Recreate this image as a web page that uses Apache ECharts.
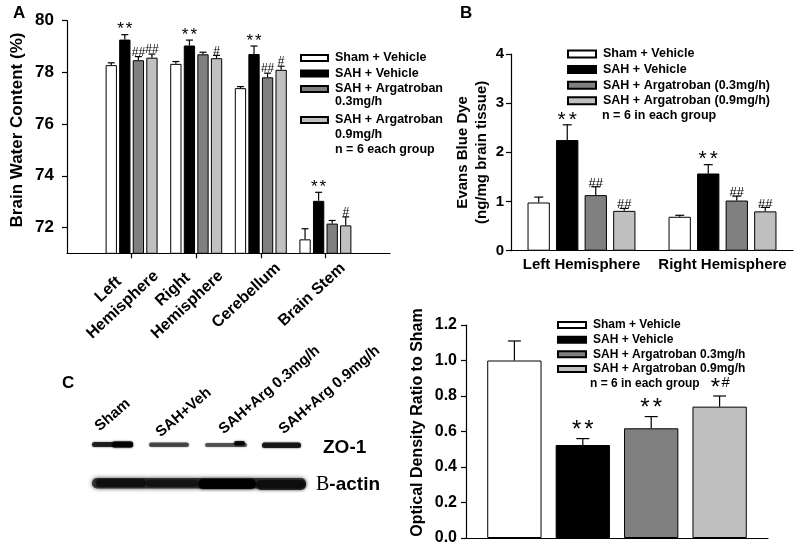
<!DOCTYPE html>
<html><head><meta charset="utf-8">
<script src="https://cdn.jsdelivr.net/npm/echarts@6/dist/echarts.min.js"></script>
<style>html,body{margin:0;padding:0;background:#fff}#c{width:800px;height:558px}</style>
</head><body><div id="c"></div>
<script>
const FONT = '"Liberation Sans", Arial, Helvetica, sans-serif';

// ---------- Panel A : brain water content ----------
const regionsA = ['Left\nHemisphere', 'Right\nHemisphere', 'Cerebellum', 'Brain Stem'];
const groupsA = ['Sham + Vehicle', 'SAH + Vehicle', 'SAH + Argatroban 0.3mg/h', 'SAH + Argatroban 0.9mg/h'];
const yTicksA = [72, 74, 76, 78, 80];
const shamA = [78.28, 78.33, 77.39, 71.54];
const shamSemA = [0.09, 0.09, 0.06, 0.41];
const sahA = [79.27, 79.04, 78.71, 73.03];
const sahSemA = [0.19, 0.21, 0.31, 0.33];
const arg03A = [78.47, 78.70, 77.81, 72.15];
const arg03SemA = [0.14, 0.08, 0.16, 0.12];
const arg09A = [78.57, 78.55, 78.10, 72.08];
const arg09SemA = [0.14, 0.11, 0.14, 0.33];
const shamMarkA = ['', '', '', ''];
const sahMarkA = ['**', '**', '**', '**'];
const arg03MarkA = ['##', '', '##', ''];
const arg09MarkA = ['##', '#', '#', '#'];

// ---------- Panel B : Evans blue ----------
const regionsB = ['Left Hemisphere', 'Right Hemisphere'];
const groupsB = ['Sham + Vehicle', 'SAH + Vehicle', 'SAH + Argatroban (0.3mg/h)', 'SAH + Argatroban (0.9mg/h)'];
const shamB = [0.98, 0.69];
const shamSemB = [0.11, 0.03];
const sahB = [2.25, 1.57];
const sahSemB = [0.31, 0.18];
const arg03B = [1.13, 1.02];
const arg03SemB = [0.17, 0.09];
const arg09B = [0.81, 0.80];
const arg09SemB = [0.05, 0.08];
const shamMarkB = ['', ''];
const sahMarkB = ['**', '**'];
const arg03MarkB = ['##', '##'];
const arg09MarkB = ['##', '##'];

// ---------- Panel C : ZO-1 optical density ----------
const groupsC = ['Sham + Vehicle', 'SAH + Vehicle', 'SAH + Argatroban 0.3mg/h', 'SAH + Argatroban 0.9mg/h'];
const densityC = [1.00, 0.524, 0.618, 0.74];
const densitySemC = [0.11, 0.036, 0.066, 0.06];
const densityMarkC = ['', '**', '**', '*#'];
const blotLanes = ['Sham', 'SAH+Veh', 'SAH+Arg 0.3mg/h', 'SAH+Arg 0.9mg/h'];

const fills = ['#ffffff', '#000000', '#808080', '#c0c0c0'];
const AX = {color: '#000', width: 1.2};

function barSeries(name, data, gi, color, bw, gap) {
  return {type: 'bar', name: name, data: data, xAxisIndex: gi, yAxisIndex: gi,
    barWidth: bw, barGap: gap, animation: false,
    itemStyle: {color: color, borderColor: '#000', borderWidth: 1}};
}
// cfg: sf/hf = font size of '*' / '#', sp = extra side space of '*', so/ho = vertical offsets
function errSeries(vals, sems, marks, gi, idx, step, cap, pad, cfg) {
  return {type: 'custom', xAxisIndex: gi, yAxisIndex: gi, z: 4, silent: true, animation: false,
    data: vals.map((v, i) => [i + pad, v, v + sems[i]]),
    renderItem: function (params, api) {
      const cat = api.value(0), v = api.value(1), t = api.value(2);
      const p0 = api.coord([cat, v]), p1 = api.coord([cat, t]);
      const x = p0[0] + (idx - 1.5) * step;
      const st = {stroke: '#000', lineWidth: 1.2};
      const ch = [
        {type: 'line', shape: {x1: x, y1: p0[1], x2: x, y2: p1[1]}, style: st},
        {type: 'line', shape: {x1: x - cap / 2, y1: p1[1], x2: x + cap / 2, y2: p1[1]}, style: st}
      ];
      const m = marks[params.dataIndex] || '';
      const chars = m.split('');
      const ws = chars.map(c => c === '*' ? 0.389 * cfg.sf + 2 * cfg.sp : 0.556 * cfg.hf);
      let cx = x - ws.reduce((a, b) => a + b, 0) / 2;
      chars.forEach((c, k) => {
        const star = c === '*', fs = star ? cfg.sf : cfg.hf;
        ch.push({type: 'text', x: cx + ws[k] / 2, y: p1[1] + (star ? cfg.so : cfg.ho),
          style: {text: c, fontSize: fs, lineHeight: fs, fontFamily: FONT, fill: '#000',
            align: 'center', verticalAlign: 'bottom'}});
        cx += ws[k];
      });
      return {type: 'group', children: ch};
    }};
}

const series = [];
const valsA = [shamA, sahA, arg03A, arg09A], semsA = [shamSemA, sahSemA, arg03SemA, arg09SemA],
      marksA = [shamMarkA, sahMarkA, arg03MarkA, arg09MarkA];
const cfgA = {sf: 17, hf: 12, sp: 1, so: 3.5, ho: 2};
for (let i = 0; i < 4; i++) {
  series.push(barSeries(groupsA[i], [null].concat(valsA[i], [null]), 0, fills[i], 11.3, '20%'));
  series.push(errSeries(valsA[i], semsA[i], marksA[i], 0, i, 13.56, 7, 1, cfgA));
}
const valsB = [shamB, sahB, arg03B, arg09B], semsB = [shamSemB, sahSemB, arg03SemB, arg09SemB],
      marksB = [shamMarkB, sahMarkB, arg03MarkB, arg09MarkB];
const cfgB = {sf: 21, hf: 13, sp: 1.5, so: 5.5, ho: 3};
for (let i = 0; i < 4; i++) {
  series.push(barSeries(groupsB[i], valsB[i], 1, fills[i], 22.3, '28%'));
  series.push(errSeries(valsB[i], semsB[i], marksB[i], 1, i, 28.5, 9, 0, cfgB));
}
const cfgC = {sf: 24, hf: 15, sp: 1.5, so: 4, ho: -6};
for (let i = 0; i < 4; i++) {
  series.push(barSeries(groupsC[i], [densityC[i]], 2, fills[i], 54.3, '26%'));
  series.push(errSeries([densityC[i]], [densitySemC[i]], [densityMarkC[i]], 2, i, 68.4, 13, 0, cfgC));
}

const legendText = (fs, lh) => ({fontSize: fs, fontWeight: 'bold', color: '#000', fontFamily: FONT, lineHeight: lh, padding: [0, 0, 0, 2]});
const stripDose = n => n.replace(/ 0\.\dmg\/h$/, '');

function gtext(text, x, y, fs, opts) {
  return Object.assign({type: 'text', x: x, y: y, style: Object.assign({text: text, fontSize: fs, fontWeight: 'bold',
    fontFamily: FONT, fill: '#000', align: 'left', verticalAlign: 'middle'}, (opts && opts.style) || {})},
    (opts && opts.el) || {});
}
const rot = 40.5 * Math.PI / 180;
const laneAnchors = [[102, 434], [163, 440], [226, 437], [286, 437]];
const graphics = [
  gtext('A', 13, 13, 17), gtext('B', 460, 13, 17), gtext('C', 62, 383, 17),
  gtext('0.3mg/h', 335, 102, 12.5), gtext('0.9mg/h', 335, 134.5, 12.5), gtext('n = 6 each group', 335, 149.5, 12.5),
  gtext('n = 6 in each group', 602, 116, 12.5),
  gtext('n = 6 in each group', 590, 383.5, 12),
  gtext('ZO-1', 323, 448, 19),
  {type: 'text', x: 316, y: 485, style: {text: '{s|B}{a|-actin}', verticalAlign: 'middle', align: 'left',
    rich: {s: {fontFamily: '"Liberation Serif", "Times New Roman", serif', fontSize: 20, fill: '#000'},
           a: {fontFamily: FONT, fontSize: 19, fontWeight: 'bold', fill: '#000'}}}}
];
blotLanes.forEach((t, i) => graphics.push(gtext(t, laneAnchors[i][0], laneAnchors[i][1], 15,
  {el: {rotation: rot}, style: {verticalAlign: 'bottom'}})));
// blot bands (image-like decoration)
const bandStyle = (c, b) => ({fill: c, shadowBlur: b, shadowColor: c});
const zoBands = [
  [92, 442, 41, 5, 'rgba(10,10,10,0.8)', 2], [112, 441.5, 21, 6, 'rgba(0,0,0,0.95)', 2],
  [149, 442.5, 40, 4.5, 'rgba(30,30,30,0.7)', 2],
  [205, 443, 42, 4, 'rgba(30,30,30,0.65)', 2], [234, 441, 11, 4.5, 'rgba(0,0,0,0.85)', 2],
  [262, 442.5, 39, 5.5, 'rgba(10,10,10,0.85)', 2]
];
zoBands.forEach(b => graphics.push({type: 'rect', shape: {x: b[0], y: b[1], width: b[2], height: b[3], r: 2.5},
  style: bandStyle(b[4], b[5])}));
const actinBands = [
  [92, 478, 214, 10.5, 'rgba(35,35,35,0.85)', 4],
  [96, 479, 50, 8, 'rgba(10,10,10,0.7)', 3], [146, 479.5, 52, 7.5, 'rgba(10,10,10,0.6)', 3],
  [198, 479, 58, 10, 'rgba(0,0,0,0.9)', 3], [256, 480, 50, 10, 'rgba(10,10,10,0.75)', 3]
];
actinBands.forEach(b => graphics.push({type: 'rect', shape: {x: b[0], y: b[1], width: b[2], height: b[3], r: 5},
  style: bandStyle(b[4], b[5])}));

const option = {
  backgroundColor: '#fff',
  animation: false,
  textStyle: {fontFamily: FONT},
  grid: [
    {left: 67, top: 20.7, width: 323, height: 232.6},
    {left: 511, top: 54, width: 282, height: 196.7},
    {left: 466, top: 325, width: 302, height: 213}
  ],
  xAxis: [
    {type: 'category', gridIndex: 0, data: [''].concat(regionsA, ['']), boundaryGap: false,
      axisLine: {lineStyle: AX}, axisTick: {show: true, length: 5, lineStyle: AX, interval: (i, v) => v !== ''},
      axisLabel: {interval: 0, rotate: 43, margin: -6, padding: [51, 0, 0, 0],
        formatter: v => v ? v.split('\n').map(s => '{c|' + s + '}').join('\n') : '',
        rich: {c: {fontSize: 16, fontWeight: 'bold', fontFamily: FONT, color: '#000', align: 'center', lineHeight: 21}}}},
    {type: 'category', gridIndex: 1, data: regionsB,
      axisLine: {lineStyle: AX}, axisTick: {show: false},
      axisLabel: {interval: 0, margin: 7, fontSize: 15, fontWeight: 'bold', color: '#000', fontFamily: FONT}},
    {type: 'category', gridIndex: 2, data: [''],
      axisLine: {lineStyle: AX}, axisTick: {show: false}, axisLabel: {show: false}}
  ],
  yAxis: [
    {type: 'value', gridIndex: 0, min: 71, max: 80, splitLine: {show: false},
      axisLine: {show: true, lineStyle: AX},
      axisTick: {show: true, length: 5, lineStyle: AX, customValues: yTicksA},
      axisLabel: {customValues: yTicksA, fontSize: 17, fontWeight: 'bold', color: '#000', margin: 13, fontFamily: FONT},
      name: 'Brain Water Content (%)', nameLocation: 'middle', nameGap: 41,
      nameTextStyle: {fontSize: 17, fontWeight: 'bold', color: '#000', fontFamily: FONT, padding: [0, 0, 0, 14]}},
    {type: 'value', gridIndex: 1, min: 0, max: 4, interval: 1, splitLine: {show: false},
      axisLine: {show: true, lineStyle: AX}, axisTick: {show: true, length: 5, lineStyle: AX},
      axisLabel: {fontSize: 15, fontWeight: 'bold', color: '#000', margin: 7, fontFamily: FONT},
      name: 'Evans Blue Dye\n(ng/mg brain tissue)', nameLocation: 'middle', nameGap: 20,
      nameTextStyle: {fontSize: 15, fontWeight: 'bold', color: '#000', fontFamily: FONT, lineHeight: 19, align: 'center'}},
    {type: 'value', gridIndex: 2, min: 0, max: 1.2, interval: 0.2, splitLine: {show: false},
      axisLine: {show: true, lineStyle: AX}, axisTick: {show: true, length: 5, lineStyle: AX},
      axisLabel: {fontSize: 16, fontWeight: 'bold', color: '#000', margin: 9, fontFamily: FONT,
        formatter: v => v.toFixed(1)},
      name: 'Optical Density Ratio to Sham', nameLocation: 'middle', nameGap: 40,
      nameTextStyle: {fontSize: 16, fontWeight: 'bold', color: '#000', fontFamily: FONT, padding: [0, 0, 0, 18]}}
  ],
  legend: [
    {left: 300, top: 50.25, orient: 'vertical', padding: 0, itemGap: 0, itemWidth: 27, itemHeight: 6,
      icon: 'rect', selectedMode: false, data: groupsA.slice(0, 3), formatter: stripDose, textStyle: legendText(12.5, 15.5)},
    {left: 300, top: 112.25, orient: 'vertical', padding: 0, itemGap: 0, itemWidth: 27, itemHeight: 6,
      icon: 'rect', selectedMode: false, data: groupsA.slice(3), formatter: stripDose, textStyle: legendText(12.5, 15.5)},
    {left: 567, top: 46.2, orient: 'vertical', padding: 0, itemGap: 0, itemWidth: 28, itemHeight: 7,
      icon: 'rect', selectedMode: false, data: groupsB, textStyle: legendText(12.5, 15.6)},
    {left: 557, top: 317.6, orient: 'vertical', padding: 0, itemGap: 0, itemWidth: 28, itemHeight: 6,
      icon: 'rect', selectedMode: false, data: groupsC, textStyle: legendText(12, 14.7)}
  ],
  graphic: graphics,
  series: series
};
const chart = echarts.init(document.getElementById('c'), null, {renderer: 'canvas', width: 800, height: 558});
chart.setOption(option);
</script></body></html>
